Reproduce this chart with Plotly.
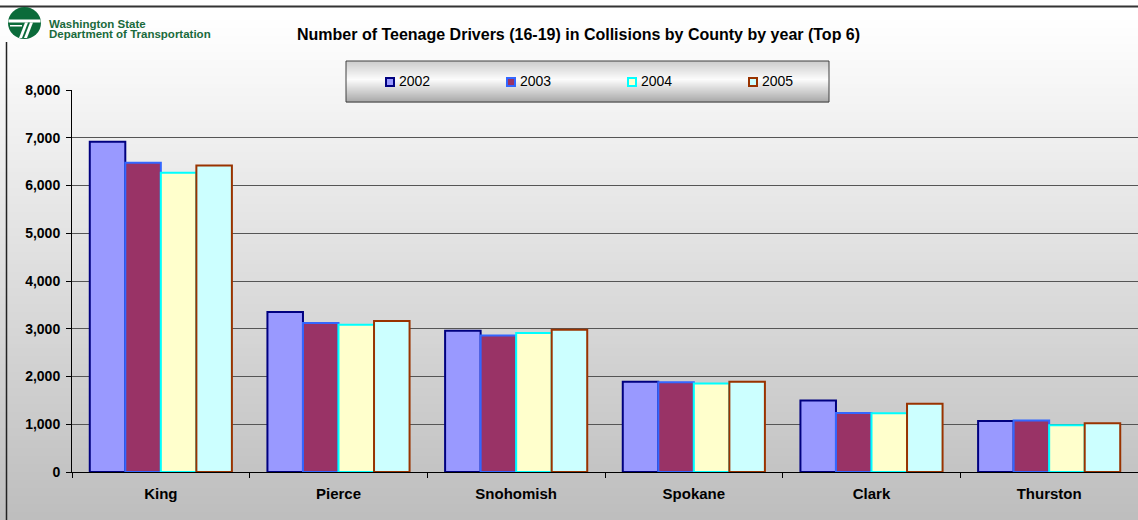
import plotly.graph_objects as go

# ---------------- data ----------------
counties = ["King", "Pierce", "Snohomish", "Spokane", "Clark", "Thurston"]
years = ["2002", "2003", "2004", "2005"]
v2002 = [6915, 3350, 2960, 1890, 1500, 1070]
v2003 = [6475, 3120, 2860, 1880, 1235, 1080]
v2004 = [6265, 3085, 2910, 1855, 1230, 980]
v2005 = [6420, 3160, 2980, 1890, 1430, 1020]
series = [v2002, v2003, v2004, v2005]
fill_colors = ["#9999FF", "#993366", "#FFFFCC", "#CCFFFF"]
border_colors = ["#000080", "#3366FF", "#00FFFF", "#993300"]
y_ticks = [0, 1000, 2000, 3000, 4000, 5000, 6000, 7000, 8000]
title_text = "Number of Teenage Drivers (16-19) in Collisions by County by year (Top 6)"
logo_lines = ["Washington State", "Department of Transportation"]

# ---------------- layout geometry ----------------
W, H = 1138, 520
ML, MR, MT, MB = 72, 0, 90, 48
PW, PH = W - ML - MR, H - MT - MB
FONT = "Liberation Sans, Arial, Helvetica, sans-serif"


def fx(px):
    return (px - ML) / PW


def fy(py):
    return (H - MB - py) / PH


fig = go.Figure()
for name, vals, fc, bc in zip(years, series, fill_colors, border_colors):
    fig.add_trace(go.Bar(
        name=name, x=counties, y=vals,
        marker=dict(color=fc, line=dict(color=bc, width=2)),
        showlegend=False,
    ))

shapes = []

# background vertical gradient (white -> gray)
step = 4
for y in range(0, H, step):
    t = max(0.0, (y - 15) / (H - 15))
    g = int(round(255 - 66 * t))
    shapes.append(dict(type="rect", xref="paper", yref="paper", layer="below",
                       x0=fx(0), x1=fx(W), y0=fy(y + step + 1), y1=fy(y),
                       fillcolor=f"rgb({g},{g},{g})", line=dict(width=0)))

# frame lines
shapes.append(dict(type="line", xref="paper", yref="paper", layer="above",
                   x0=fx(0), x1=fx(W), y0=fy(6.5), y1=fy(6.5),
                   line=dict(color="#333333", width=2)))
shapes.append(dict(type="line", xref="paper", yref="paper", layer="above",
                   x0=fx(6.5), x1=fx(6.5), y0=fy(42), y1=fy(H),
                   line=dict(color="#222222", width=1.5)))

# logo
shapes.append(dict(type="circle", xref="paper", yref="paper", layer="above",
                   x0=fx(8), x1=fx(41), y0=fy(39), y1=fy(7),
                   fillcolor="#0b6b3a", line=dict(width=0)))
shapes.append(dict(type="rect", xref="paper", yref="paper", layer="above",
                   x0=fx(8.5), x1=fx(40.5), y0=fy(22.5), y1=fy(19.5),
                   fillcolor="white", line=dict(width=0)))
shapes.append(dict(type="rect", xref="paper", yref="paper", layer="above",
                   x0=fx(10), x1=fx(22), y0=fy(26.5), y1=fy(25),
                   fillcolor="white", line=dict(width=0)))


def path(pts):
    s = "M " + " L ".join(f"{fx(a)},{fy(b)}" for a, b in pts) + " Z"
    return s


shapes.append(dict(type="path", xref="paper", yref="paper", layer="above",
                   path=path([(25, 22.5), (33, 22.5), (27, 38), (19, 38)]),
                   fillcolor="white", line=dict(width=0)))
shapes.append(dict(type="path", xref="paper", yref="paper", layer="above",
                   path=path([(28, 22.5), (30, 22.5), (24, 38), (22, 38)]),
                   fillcolor="#0b6b3a", line=dict(width=0)))

# legend box with glossy gradient
LX0, LX1, LY0, LY1 = 346, 829, 61, 102
for i in range(LY1 - LY0):
    t = i / (LY1 - LY0 - 1)
    if t < 0.45:
        g = 205 + (252 - 205) * (t / 0.45)
    else:
        g = 252 - (252 - 170) * ((t - 0.45) / 0.55)
    g = int(round(g))
    shapes.append(dict(type="rect", xref="paper", yref="paper", layer="above",
                       x0=fx(LX0), x1=fx(LX1), y0=fy(LY0 + i + 1.5), y1=fy(LY0 + i),
                       fillcolor=f"rgb({g},{g},{g})", line=dict(width=0)))
shapes.append(dict(type="rect", xref="paper", yref="paper", layer="above",
                   x0=fx(LX0), x1=fx(LX1), y0=fy(LY1), y1=fy(LY0),
                   fillcolor="rgba(0,0,0,0)", line=dict(color="#404040", width=1)))

annotations = []
for i, (name, fc, bc) in enumerate(zip(years, fill_colors, border_colors)):
    sx = 385 + 121 * i
    shapes.append(dict(type="rect", xref="paper", yref="paper", layer="above",
                       x0=fx(sx + 1), x1=fx(sx + 9), y0=fy(86), y1=fy(78),
                       fillcolor=fc, line=dict(color=bc, width=2)))
    annotations.append(dict(xref="paper", yref="paper", x=fx(sx + 12), y=fy(81.5),
                            xanchor="left", yanchor="middle", showarrow=False,
                            text=name, font=dict(family=FONT, size=14, color="black")))

annotations.append(dict(xref="paper", yref="paper", x=fx(578), y=fy(35),
                        xanchor="center", yanchor="middle", showarrow=False,
                        text=f"<b>{title_text}</b>",
                        font=dict(family=FONT, size=16, color="black")))
for j, line in enumerate(logo_lines):
    annotations.append(dict(xref="paper", yref="paper", x=fx(47), y=fy(24 + 9.5 * j),
                            xanchor="left", yanchor="middle", showarrow=False,
                            text=f"<b>{line}</b>",
                            font=dict(family=FONT, size=11.5, color="#1a6a3c")))

fig.update_layout(
    width=W, height=H,
    margin=dict(l=ML, r=MR, t=MT, b=MB),
    paper_bgcolor="white",
    plot_bgcolor="rgba(0,0,0,0)",
    barmode="group", bargap=0.2, bargroupgap=0,
    showlegend=False,
    shapes=shapes,
    annotations=annotations,
    xaxis=dict(
        type="category", showline=True, linecolor="black", linewidth=1,
        ticks="outside", tickson="boundaries", ticklen=5, tickcolor="black",
        showgrid=False, ticklabelstandoff=8,
        tickfont=dict(family=FONT, size=15, color="black", weight="bold"),
    ),
    yaxis=dict(
        range=[0, 8000], tickvals=y_ticks, tickformat=",",
        showline=True, linecolor="black", linewidth=1,
        ticks="outside", ticklen=5, tickcolor="black",
        showgrid=True, gridcolor="#555555", gridwidth=1, zeroline=False,
        ticklabelstandoff=3,
        tickfont=dict(family=FONT, size=14, color="black", weight="bold"),
    ),
)

fig.write_html(
    "out.html",
    config={"displayModeBar": False},
    post_script="document.body.style.margin='0';document.body.style.overflow='hidden';",
)
